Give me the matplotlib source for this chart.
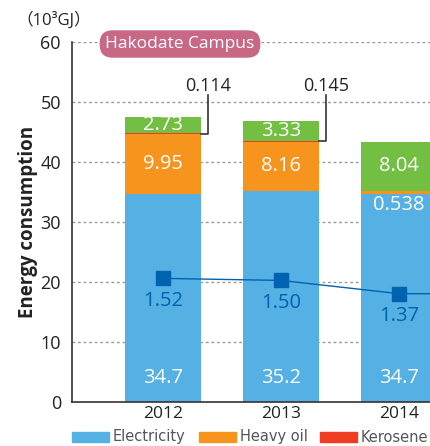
import matplotlib
matplotlib.use("Agg")
import matplotlib.pyplot as plt
from matplotlib.patches import Rectangle

plt.rcParams['font.family'] = ['Open Sans', 'DejaVu Sans']

years = ["2012", "2013", "2014"]
electricity = [34.7, 35.2, 34.7]
heavy_oil = [9.95, 8.16, 0.538]
kerosene = [0.114, 0.145, 0.0]
other = [2.73, 3.33, 8.04]
intensity = [1.52, 1.50, 1.37]
legend_labels = ["Electricity", "Heavy oil", "Kerosene"]

c_elec = "#55b0e3"
c_oil = "#f7941d"
c_ker = "#ee3d23"
c_oth = "#72bf44"
c_line = "#0062b0"

W, H = 431, 446
fig = plt.figure(figsize=(W/100, H/100), dpi=100)
ax_l, ax_r, ax_b, ax_t = 72, 431, 402, 42
ax = fig.add_axes([ax_l/W, 1-ax_b/H, (ax_r-ax_l)/W, (ax_b-ax_t)/H])
x = list(range(len(years)))
xmin = -(163-72)/118
xmax = xmin + (ax_r-ax_l)/118
ax.set_xlim(xmin, xmax)
ax.set_ylim(0, 60)
bw = 0.64

ax.bar(x, electricity, bw, color=c_elec, zorder=2)
ax.bar(x, heavy_oil, bw, bottom=electricity, color=c_oil, zorder=2)
bot3 = [a+b for a, b in zip(electricity, heavy_oil)]
ax.bar(x, kerosene, bw, bottom=bot3, color=c_ker, zorder=2)
bot4 = [a+b for a, b in zip(bot3, kerosene)]
ax.bar(x, other, bw, bottom=bot4, color=c_oth, zorder=2)

ax.set_yticks(range(0, 61, 10))
ax.tick_params(axis='y', length=0, labelsize=13, colors="#222222", pad=8)
ax.tick_params(axis='x', length=0, labelsize=12.5, colors="#222222", pad=3)
ax.set_xticks(x)
ax.set_xticklabels(years)
for yv in range(10, 61, 10):
    ax.axhline(yv, color="#999999", lw=1, ls=(0, (2, 2)), zorder=1)
for s in ["top", "right"]:
    ax.spines[s].set_visible(False)
for s in ["left", "bottom"]:
    ax.spines[s].set_color("#333333")
    ax.spines[s].set_linewidth(1.2)

for i in x:
    ax.text(i, 4.0, f"{electricity[i]}", color="white", ha="center", va="center", fontsize=14.5, zorder=5)
    if heavy_oil[i] > 1:
        ax.text(i, electricity[i] + heavy_oil[i]/2, f"{heavy_oil[i]}", color="white", ha="center", va="center", fontsize=14.5, zorder=5)
    else:
        ax.text(i, electricity[i] - 1.8, f"{heavy_oil[i]}", color="white", ha="center", va="center", fontsize=14.5, zorder=5)
    ax.text(i, bot4[i] + other[i]/2, f"{other[i]}", color="white", ha="center", va="center", fontsize=14.5, zorder=5)
    if kerosene[i] > 0:
        xr = i + bw/2
        xv = xr + 0.06
        yk = bot3[i] + kerosene[i]/2
        ax.plot([xr, xv, xv], [yk, yk, 51.2], color="#333333", lw=1.2, zorder=5, clip_on=False)
        ax.text(xv, 52.7, f"{kerosene[i]:.3f}", color="#222222", ha="center", va="center", fontsize=13, zorder=5)

ax2 = ax.twinx()
ax2.set_ylim(0.308, 0.308 + 60/17)
ax2.axis('off')
ax2.plot(x + [3], intensity + [1.37], color=c_line, lw=1, marker='s', markersize=10, zorder=6)
for i in x:
    ax2.text(i, intensity[i] - 0.12, f"{intensity[i]:.2f}", color=c_line, ha="center", va="top", fontsize=14.5)
ax2.set_xlim(xmin, xmax)

fig.text(28/W, 1-222/H, "Energy consumption", rotation=90, ha="center", va="center", fontsize=13.5, fontweight="bold", color="#222222")
fig.text(16/W, 1-20/H, "（10³GJ）", ha="left", va="center", fontsize=12, color="#222222",
         family=["Open Sans", "Noto Sans CJK JP", "DejaVu Sans"])

fig.text(180/W, 1-44/H, "Hakodate Campus", ha="center", va="center", fontsize=12.5, color="white",
         bbox=dict(boxstyle="round,pad=0.33,rounding_size=0.75", fc="#c96885", ec="none"))

cols = [c_elec, c_oil, c_ker]
xs = [72, 199, 320]
for xi, c, lab in zip(xs, cols, legend_labels):
    fig.patches.append(Rectangle((xi/W, 1-442/H), 37/W, 10/H, transform=fig.transFigure, color=c))
    fig.text((xi+41)/W, 1-437/H, lab, ha="left", va="center", fontsize=10.5, color="#555555", family=["DejaVu Sans"])

fig.savefig("out.png", dpi=100)
